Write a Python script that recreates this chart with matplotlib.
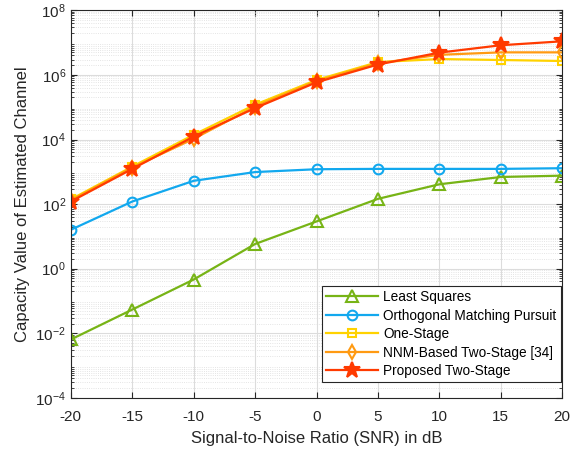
import numpy as np
import matplotlib.pyplot as plt
from matplotlib.ticker import LogLocator, NullFormatter

plt.rcParams['font.family'] = ['Liberation Sans', 'DejaVu Sans']

# 数据
snr = [-20, -15, -10, -5, 0, 5, 10, 15, 20]
ls_vals = [0.0064, 0.054, 0.46, 5.8, 29, 145, 410, 690, 760]
omp_vals = [16, 120, 525, 980, 1200, 1230, 1230, 1230, 1290]
one_stage = [140, 1450, 14000, 1.2e5, 7.0e5, 2.5e6, 3.1e6, 2.9e6, 2.7e6]
nnm_two = [130, 1350, 10500, 1.05e5, 6.4e5, 2.3e6, 4.2e6, 5.0e6, 5.0e6]
proposed = [120, 1230, 12300, 9.4e4, 5.9e5, 2.1e6, 4.9e6, 8.3e6, 1.1e7]

labels = ['Least Squares', 'Orthogonal Matching Pursuit', 'One-Stage',
          'NNM-Based Two-Stage [34]', 'Proposed Two-Stage']
colors = ['#77B416', '#12A8EE', '#FFD200', '#FF9A12', '#FF3A00']
markers = ['^', 'o', 's', 'd', '*']
msizes = [8, 7, 6, 7, 12]

fig = plt.figure(figsize=(5.76, 4.5), dpi=100)
ax = fig.add_axes([0.123, 0.116, 0.853, 0.861])

series = [ls_vals, omp_vals, one_stage, nnm_two, proposed]
for vals, lab, c, m, ms in zip(series, labels, colors, markers, msizes):
    ax.plot(snr, vals, color=c, marker=m, markersize=ms, lw=1.6,
            markerfacecolor='none' if m != '*' else c,
            markeredgewidth=1.5, label=lab)

ax.set_yscale('log')
ax.set_xlim(-20, 20)
ax.set_ylim(1e-4, 1e8)
ax.set_xticks(snr)
ax.set_xticklabels([str(s) for s in snr])
ax.set_yticks([1e-4, 1e-2, 1e0, 1e2, 1e4, 1e6, 1e8])
ax.yaxis.set_minor_locator(LogLocator(base=10, subs=np.arange(2, 10), numticks=100))
ax.yaxis.set_minor_formatter(NullFormatter())

# MATLAB 风格网格和刻度
ax.grid(True, which='major', color='#DCDCDC', lw=0.8)
ax.grid(True, which='minor', axis='y', color='#DCDCDC', lw=0.6, ls=':')
ax.tick_params(which='both', direction='in', top=True, right=True,
               labelsize=11, colors='#262626')
ax.tick_params(which='major', length=4)
ax.tick_params(which='minor', length=2)
ax.tick_params(axis='x', pad=8.5)
for sp in ax.spines.values():
    sp.set_color('#262626')
    sp.set_linewidth(0.8)

ax.set_xlabel('Signal-to-Noise Ratio (SNR) in dB', fontsize=12,
              color='#262626', labelpad=5)
ax.set_ylabel('Capacity Value of Estimated Channel', fontsize=12, color='#262626')

leg = ax.legend(loc='lower right', fontsize=9.8, frameon=True, fancybox=False,
                edgecolor='#262626', framealpha=1, handlelength=3.8,
                borderpad=0.3, labelspacing=0.33, handletextpad=0.4,
                borderaxespad=0, bbox_to_anchor=(0.997, 0.04))
leg.get_frame().set_linewidth(0.8)

fig.savefig('out.png', dpi=100)
